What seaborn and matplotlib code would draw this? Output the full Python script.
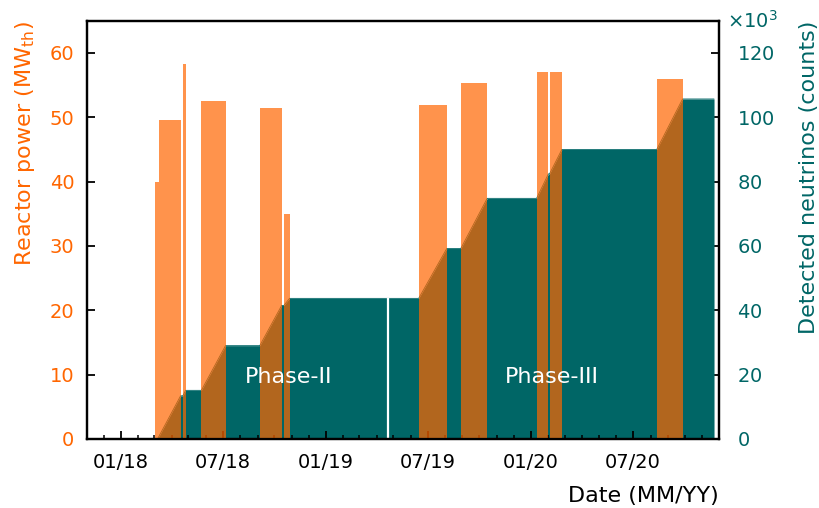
import matplotlib
matplotlib.use("Agg")
import matplotlib.pyplot as plt
import matplotlib.dates as mdates
from matplotlib.ticker import ScalarFormatter, MultipleLocator
import numpy as np
import pandas as pd
import seaborn as sns

# --- Data ---
# reactor ON periods: start, end, thermal power (MW)
ON_START = ["2018-03-02", "2018-03-09", "2018-04-21", "2018-05-24", "2018-09-05", "2018-10-18",
            "2019-06-15", "2019-08-29", "2020-01-11", "2020-02-03", "2020-08-12", "2020-09-01"]
ON_END = ["2018-03-09", "2018-04-17", "2018-04-26", "2018-07-06", "2018-10-14", "2018-10-28",
          "2019-08-04", "2019-10-15", "2020-02-01", "2020-02-25", "2020-09-01", "2020-09-27"]
ON_POWER = [40.0, 49.6, 58.3, 52.6, 51.5, 35.0, 51.9, 55.3, 57.0, 57.0, 56.0, 56.0]

# cumulative detected neutrinos
NU_DATES = ["2018-03-07", "2018-04-17", "2018-04-21", "2018-04-26", "2018-05-24", "2018-07-06",
            "2018-09-05", "2018-10-14", "2018-10-18", "2018-10-28", "2019-06-15", "2019-08-04",
            "2019-08-29", "2019-10-15", "2020-01-11", "2020-02-01", "2020-02-03", "2020-02-25",
            "2020-08-12", "2020-09-27", "2020-11-22"]
NU_COUNTS = [0, 13400, 13400, 15100, 15100, 29000,
             29000, 41500, 41500, 43700, 43700, 59200,
             59200, 74800, 74800, 82400, 82400, 90000,
             90000, 105700, 105700]

# short gap in the neutrino data
GAP_DATES = ["2019-04-22"]

PHASE_LABELS = ["Phase-II", "Phase-III"]
PHASE_X = ["2018-10-27", "2020-02-07"]
PHASE_Y = [9.7, 9.7]

ORANGE = "#ff6600"
TEAL = "#006666"

# --- Plot ---
sns.set_theme(style="ticks")
plt.rcParams['font.family'] = ['DejaVu Sans']
plt.rcParams['mathtext.fontset'] = 'dejavusans'
plt.rcParams['text.color'] = 'black'
plt.rcParams['axes.labelcolor'] = 'black'

fig = plt.figure(figsize=(8.19, 5.08), dpi=100)
ax1 = fig.add_axes([0.106, 0.136, 0.772, 0.823])
ax2 = ax1.twinx()
# neutrinos underneath, reactor power on top
ax2.set_zorder(ax1.get_zorder() - 1)
ax1.patch.set_visible(False)

# reactor power as rectangles
px, py = [], []
for s, e, p in zip(ON_START, ON_END, ON_POWER):
    px += [pd.Timestamp(s), pd.Timestamp(s), pd.Timestamp(e), pd.Timestamp(e)]
    py += [0, p, p, 0]
ax1.fill_between(px, 0, py, color=ORANGE, alpha=0.7, lw=0)

# cumulative neutrino counts
nu = pd.DataFrame({"date": pd.to_datetime(NU_DATES), "counts": NU_COUNTS})
ax2.fill_between(nu["date"], 0, nu["counts"], color=TEAL, lw=0)
sns.lineplot(data=nu, x="date", y="counts", ax=ax2, color=TEAL, lw=0.6, estimator=None)
gaps = pd.to_datetime(GAP_DATES)
gap_h = np.interp(mdates.date2num(gaps), mdates.date2num(nu["date"]), nu["counts"])
ax2.vlines(gaps, 0, gap_h, color="white", lw=1.6)

for lab, x, y in zip(PHASE_LABELS, PHASE_X, PHASE_Y):
    ax1.text(pd.Timestamp(x), y, lab, color="white", fontsize=16, ha="center", va="center")

# axes
ax1.set_xlim(pd.Timestamp("2017-11-01"), pd.Timestamp("2020-12-01"))
ax1.set_ylim(0, 65)
ax2.set_ylim(0, 130000)

ax1.xaxis.set_major_locator(mdates.MonthLocator(bymonth=[1, 7]))
ax1.xaxis.set_minor_locator(mdates.MonthLocator())
ax1.xaxis.set_major_formatter(mdates.DateFormatter("%m/%y"))
ax1.yaxis.set_major_locator(MultipleLocator(10))
ax2.yaxis.set_major_locator(MultipleLocator(20000))
fmt = ScalarFormatter(useMathText=True)
fmt.set_powerlimits((3, 3))
ax2.yaxis.set_major_formatter(fmt)
ax2.yaxis.get_offset_text().set_visible(False)
ax2.text(1.012, 1.0, r"$\times10^{3}$", transform=ax2.transAxes, color=TEAL,
         fontsize=14, ha="left", va="center")

ax1.tick_params(axis="x", which="major", direction="in", length=5.5, width=1.3, pad=10, labelsize=14, colors="black")
ax1.tick_params(axis="x", which="minor", direction="in", length=3, width=1.1, colors="black")
ax1.tick_params(axis="y", direction="in", length=6, width=1.3, pad=9, labelsize=14, color="black", labelcolor=ORANGE)
ax2.tick_params(axis="y", direction="in", length=6, width=1.3, pad=13, labelsize=14, color="black", labelcolor=TEAL)

for ax in (ax1, ax2):
    for sp in ax.spines.values():
        sp.set_linewidth(1.6)
        sp.set_color("black")

ax1.set_ylabel(r"Reactor power (MW$_{\rm th}$)", color=ORANGE, fontsize=16, labelpad=9, loc="top")
ax2.set_ylabel("Detected neutrinos (counts)", color=TEAL, fontsize=16, labelpad=17, loc="top")
ax1.set_xlabel("Date (MM/YY)", fontsize=16, loc="right", labelpad=10, color="black")

fig.savefig("out.png", dpi=100)
